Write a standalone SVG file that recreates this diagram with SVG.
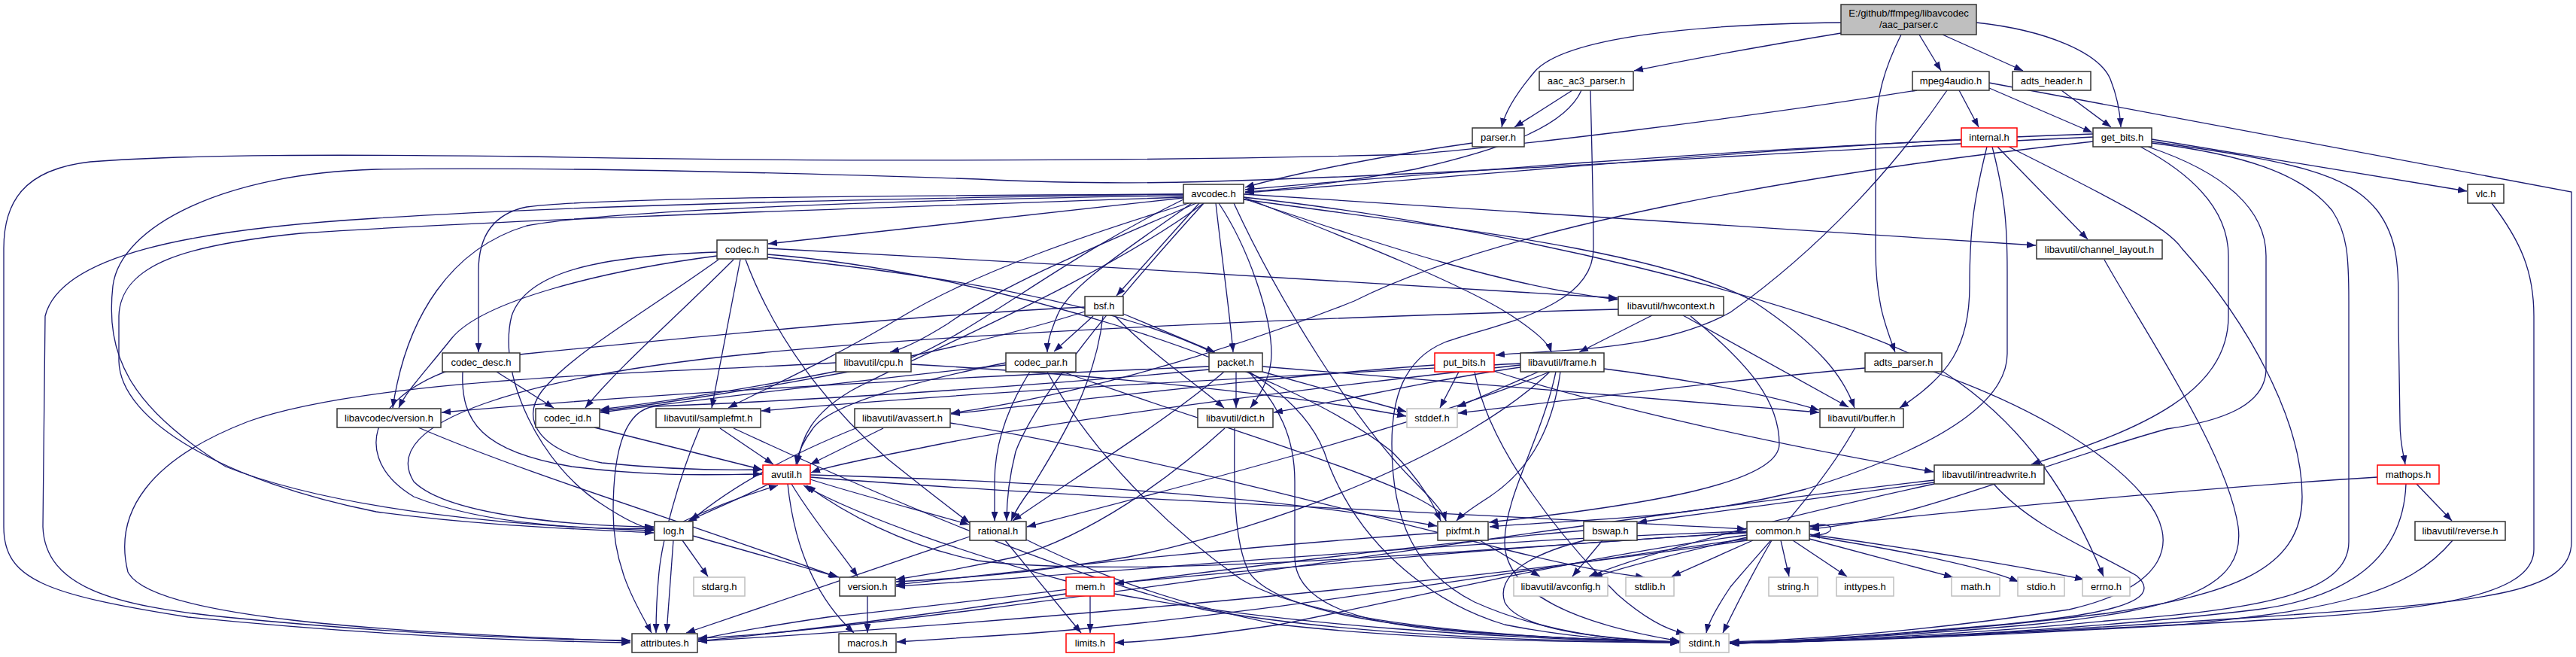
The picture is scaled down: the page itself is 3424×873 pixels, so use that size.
<svg xmlns="http://www.w3.org/2000/svg" width="3424" height="873" viewBox="0 0 3424 873">
<style>
.n rect{fill:#fff;stroke:#333;stroke-width:1.5}
.g rect{fill:#fff;stroke:#bfbfbf;stroke-width:1.5}
.r rect{fill:#fff;stroke:#ff0000;stroke-width:1.5}
.top rect{fill:#bfbfbf;stroke:#333;stroke-width:1.5}
text{font-family:"Liberation Sans",Arial,sans-serif;font-size:13px;text-anchor:middle;fill:#000}
#edges path{fill:none;stroke:#191970;stroke-width:1.3;marker-end:url(#a)}
</style>
<defs>
<marker id="a" markerWidth="12" markerHeight="9" refX="12" refY="4.5" orient="auto" markerUnits="userSpaceOnUse"><path d="M0,0 L12,4.5 L0,9 z" fill="#191970"/></marker>
</defs>
<rect width="3424" height="873" fill="#fff"/>
<g id="edges">
<path d="M2447,30 C2250,32 2080,50 2040,95 C2012,128 2000,150 1996,169"/>
<path d="M2447,44 C2350,60 2250,78 2172,94"/>
<path d="M2551,46 L2580,94"/>
<path d="M2527,46 C2505,90 2493,130 2493,180 L2493,330 C2493,400 2505,430 2519,468"/>
<path d="M2582,46 L2689,94"/>
<path d="M2627,30 C2720,40 2790,70 2805,105 C2815,130 2818,150 2819,169"/>
<path d="M2090,120 L2013,169"/>
<path d="M2102,120 C2080,170 1990,200 1880,225 C1780,243 1710,252 1655,255"/>
<path d="M2114,120 C2116,200 2118,280 2118,330 C2118,410 1990,430 1920,455 C1865,478 1850,530 1850,590 C1850,690 1880,760 1960,800 C2060,845 2170,852 2232,854"/>
<path d="M2604,120 L2630,169"/>
<path d="M2548,120 C2300,160 2000,195 1880,205 C1500,215 1100,215 700,208 C450,205 250,205 120,215 C30,225 5,270 5,330 L5,700 C5,770 60,790 250,820 C500,845 700,852 838,854"/>
<path d="M2588,120 C2520,220 2420,330 2300,415 C2200,470 2050,465 1988,472"/>
<path d="M2644,117 L2781,176"/>
<path d="M2644,110 L3418,255 L3418,720 C3418,790 3300,800 3000,820 C2700,840 2450,852 2300,855"/>
<path d="M1957,190 C1850,205 1720,230 1655,249"/>
<path d="M2740,120 L2806,169"/>
<path d="M2607,186 C2300,200 1900,230 1655,252"/>
<path d="M2641,195 C2625,260 2618,300 2618,380 C2618,460 2590,500 2525,542"/>
<path d="M2655,195 L2775,318"/>
<path d="M2648,195 C2665,260 2668,300 2668,360 L2668,470 C2668,540 2560,600 2400,650 C2250,690 2100,690 1980,700"/>
<path d="M2670,195 C2800,260 2880,300 2900,330 C2990,430 3060,560 3060,660 C3060,760 2960,790 2800,815 C2600,840 2400,852 2300,854"/>
<path d="M2860,185 L3279,254"/>
<path d="M2860,188 C3050,215 3120,230 3160,280 C3190,320 3188,360 3188,430 L3190,560 C3190,590 3195,605 3197,617"/>
<path d="M2860,190 C2980,205 3060,230 3100,280 C3120,310 3122,340 3122,400 L3122,720 C3122,790 3000,810 2800,825 C2600,845 2400,852 2300,855"/>
<path d="M2845,195 C2930,240 2962,290 2962,340 L2962,420 C2962,520 2850,570 2700,617"/>
<path d="M2855,195 C2960,230 3012,280 3012,340 L3012,490 C3012,540 2950,560 2880,570 C2700,620 2550,690 2406,703"/>
<path d="M2782,178 C2400,190 1950,235 1655,256"/>
<path d="M2782,182 C2400,200 2000,228 1700,238 C1550,244 1450,245 1300,238 C1000,228 700,222 500,225 C300,230 160,300 150,380 C140,470 170,540 300,620 C450,680 700,700 869,705"/>
<path d="M2782,188 C2400,230 2000,300 1800,400 C1600,480 1400,530 1264,549"/>
<path d="M3312,270 C3350,320 3368,360 3368,420 L3368,730 C3368,800 3200,815 2900,830 C2650,842 2450,852 2300,855"/>
<path d="M1653,262 C2000,300 2400,400 2560,480 C2700,560 2760,680 2796,766"/>
<path d="M1580,270 C1450,310 1300,360 1200,420 C1100,480 1020,515 968,542"/>
<path d="M1573,258 C1300,262 800,270 500,290 C250,305 80,340 60,420 L57,700 C60,780 150,805 300,820 C500,840 700,850 838,851"/>
<path d="M1600,270 C1450,380 1200,480 1130,520 C1080,550 1065,580 1060,617"/>
<path d="M1653,265 C1900,300 2200,330 2330,400 C2420,460 2450,500 2465,542"/>
<path d="M1590,270 C1450,330 1330,380 1260,430 C1220,455 1195,465 1183,468"/>
<path d="M1653,258 C2100,290 2500,315 2706,326"/>
<path d="M1620,270 C1660,330 1690,420 1690,470 C1690,500 1675,525 1662,542"/>
<path d="M1653,262 C1800,320 1950,380 2010,420 C2040,440 2058,455 2062,468"/>
<path d="M1653,264 C1850,330 2000,380 2150,398"/>
<path d="M1573,262 C1200,275 700,290 400,310 C250,325 160,350 158,420 L158,480 C160,560 300,640 500,680 C650,700 780,703 869,708"/>
<path d="M1640,270 C1700,400 1800,560 1880,640 C1905,665 1918,680 1922,692"/>
<path d="M1600,270 C1500,380 1380,520 1350,600 C1340,640 1338,670 1338,692"/>
<path d="M1594,270 L1484,393"/>
<path d="M1573,263 L1021,324"/>
<path d="M1573,258 C1200,260 800,262 700,275 C650,285 636,320 636,360 L636,468"/>
<path d="M1584,270 C1500,330 1420,380 1405,420 C1395,445 1392,455 1392,468"/>
<path d="M1573,265 C1400,350 1300,440 1200,480 C1000,520 850,540 798,546"/>
<path d="M1616,270 C1625,350 1635,420 1639,468"/>
<path d="M1573,260 C1200,265 800,280 700,300 C600,330 540,420 522,542"/>
<path d="M991,345 C1030,450 1100,540 1180,610 C1230,650 1265,677 1289,695"/>
<path d="M984,345 L946,542"/>
<path d="M975,345 C900,420 820,490 778,542"/>
<path d="M955,345 C850,420 760,470 720,520 C690,560 720,600 800,615 C900,625 970,625 1013,624"/>
<path d="M1020,330 C1400,350 1900,380 2150,396"/>
<path d="M1020,338 C1300,360 1700,480 1850,600 C1890,640 1905,670 1915,692"/>
<path d="M1020,342 C1400,380 1700,450 1760,600 C1800,720 1900,800 2000,830 C2100,850 2180,852 2232,853"/>
<path d="M953,335 C800,340 700,360 680,420 C660,500 720,620 800,670 C830,690 850,700 869,704"/>
<path d="M953,340 C800,360 640,400 600,450 C560,500 540,520 530,542"/>
<path d="M1453,420 L1401,467"/>
<path d="M1493,417 L1615,468"/>
<path d="M1482,420 C1530,470 1590,510 1627,542"/>
<path d="M1466,420 C1455,520 1400,600 1370,650 C1355,670 1347,685 1344,692"/>
<path d="M1442,408 C1200,420 900,450 700,470 C500,490 450,600 550,660 C650,700 800,704 869,702"/>
<path d="M1442,414 C1300,460 1000,520 798,544"/>
<path d="M660,494 L736,542"/>
<path d="M615,494 C612,560 640,600 760,620 C880,635 960,630 1013,630"/>
<path d="M1111,482 C900,495 500,500 330,560 C200,610 150,680 170,760 C200,820 500,840 838,852"/>
<path d="M1211,484 C1500,500 1750,530 1869,553"/>
<path d="M1369,494 C1340,540 1322,590 1322,640 L1322,692"/>
<path d="M1337,482 C1200,510 1100,540 1080,570 C1065,590 1060,605 1058,617"/>
<path d="M1337,485 C1100,510 900,535 798,548"/>
<path d="M1412,494 C1600,560 1800,620 1880,660 C1910,675 1920,685 1922,692"/>
<path d="M1392,494 C1450,600 1550,700 1650,770 C1750,830 2000,848 2232,853"/>
<path d="M1643,494 L1643,542"/>
<path d="M1678,494 L1869,547"/>
<path d="M1678,487 C1900,505 2200,530 2418,548"/>
<path d="M1627,494 C1550,560 1420,640 1346,692"/>
<path d="M1660,494 C1700,540 1721,580 1721,640 L1721,740 C1721,800 1800,830 1950,840 C2100,850 2180,852 2232,853"/>
<path d="M1607,487 C1300,500 900,520 587,548"/>
<path d="M1607,491 C1300,520 1000,535 870,540 C830,545 815,600 815,680 C815,760 850,810 866,841"/>
<path d="M556,568 C700,630 900,690 1113,767"/>
<path d="M790,568 L1013,624"/>
<path d="M957,569 L1028,617"/>
<path d="M930,569 C900,640 880,720 876,760 C872,800 872,820 872,841"/>
<path d="M975,569 C1150,650 1400,760 1600,810 C1800,845 2050,852 2232,854"/>
<path d="M1174,569 L1077,617"/>
<path d="M1140,568 C1060,600 980,640 918,692"/>
<path d="M1263,562 C1500,600 1800,680 2000,730 C2120,760 2170,765 2186,767"/>
<path d="M1641,569 C1640,650 1640,720 1660,760 C1700,820 1900,845 2232,853"/>
<path d="M1628,569 C1550,640 1450,710 1350,740 C1260,760 1220,765 1191,770"/>
<path d="M2466,568 C2420,650 2350,720 2300,780 C2280,810 2270,830 2268,841"/>
<path d="M2045,494 L1937,541"/>
<path d="M2132,490 C2250,505 2350,525 2418,545"/>
<path d="M2021,488 C1900,505 1800,530 1693,548"/>
<path d="M2021,483 C1700,500 1300,520 1012,546"/>
<path d="M2021,485 C1700,520 1400,560 1250,590 C1150,610 1100,620 1078,628"/>
<path d="M2060,494 C1900,560 1600,640 1365,700"/>
<path d="M2074,494 C2065,560 2040,620 1980,660 C1955,676 1942,685 1936,692"/>
<path d="M2068,494 C2050,580 2000,660 2000,720 C2000,790 2100,830 2233,852"/>
<path d="M2060,494 C1950,600 1700,700 1500,740 C1350,765 1250,770 1191,773"/>
<path d="M2196,419 L2099,468"/>
<path d="M2237,419 L2457,541"/>
<path d="M2247,420 C2320,480 2365,530 2365,590 C2365,640 2200,670 1979,694"/>
<path d="M2151,411 C1800,420 1300,440 1000,470 C700,500 500,560 550,640 C600,690 800,700 869,700"/>
<path d="M1939,494 L1914,542"/>
<path d="M1982,492 C2100,530 2300,580 2570,627"/>
<path d="M1907,485 C1700,500 1450,530 1264,550"/>
<path d="M1960,494 C1980,600 2080,720 2150,790 C2190,825 2220,838 2240,842"/>
<path d="M2479,489 C2300,505 2100,530 1938,549"/>
<path d="M2570,494 C2700,540 2800,600 2850,660 C2900,720 2880,780 2750,810 C2550,840 2400,850 2299,853"/>
<path d="M1022,643 C985,662 945,678 914,693"/>
<path d="M1077,637 C1150,660 1230,680 1288,697"/>
<path d="M1052,643 C1080,690 1115,730 1140,766"/>
<path d="M1047,643 C1055,720 1080,790 1135,841"/>
<path d="M1077,634 C1400,660 1900,680 2321,703"/>
<path d="M1077,631 C1400,640 1700,660 1910,699"/>
<path d="M908,693 C960,668 1000,655 1034,645"/>
<path d="M2322,707 C1900,735 1500,770 1300,745 C1200,725 1120,680 1072,645"/>
<path d="M1417,772 C1300,740 1150,690 1068,645"/>
<path d="M907,718 L941,766"/>
<path d="M895,718 L886,841"/>
<path d="M921,712 L1115,767"/>
<path d="M1336,718 L1437,841"/>
<path d="M1289,713 C1150,760 1000,810 912,841"/>
<path d="M1364,717 C1450,760 1550,800 1700,830 C1900,852 2100,853 2232,854"/>
<path d="M1967,718 L2047,766"/>
<path d="M1911,708 C1600,730 1350,760 1191,777"/>
<path d="M2405,699 C2440,690 2445,712 2407,711"/>
<path d="M2367,718 L2378,766"/>
<path d="M2383,718 L2455,766"/>
<path d="M2405,716 L2596,767"/>
<path d="M2405,712 C2550,735 2640,755 2683,773"/>
<path d="M2405,710 C2550,730 2700,755 2770,770"/>
<path d="M2330,718 L2222,766"/>
<path d="M2322,714 C2230,735 2170,750 2118,767"/>
<path d="M2355,718 C2330,760 2310,800 2290,841"/>
<path d="M2322,711 C2100,740 1900,790 1700,830 C1600,845 1530,852 1482,854"/>
<path d="M2322,708 C2100,720 1800,745 1482,775"/>
<path d="M2322,716 C2000,760 1600,830 1300,846 C1240,850 1210,852 1192,853"/>
<path d="M2322,706 C1900,720 1500,760 1191,779"/>
<path d="M2322,718 C1900,780 1300,830 928,852"/>
<path d="M2130,718 L2090,766"/>
<path d="M2106,718 C2020,740 1990,770 2000,800 C2020,840 2150,850 2233,853"/>
<path d="M2105,705 C1800,730 1400,790 1100,820 C1000,835 950,845 928,850"/>
<path d="M2571,641 L2177,694"/>
<path d="M2571,643 C2400,680 2200,730 2112,766"/>
<path d="M2571,638 C2200,680 1700,760 1300,810 C1100,835 1000,845 928,848"/>
<path d="M2650,643 C2700,700 2780,730 2840,765 C2880,800 2800,820 2600,835 C2450,848 2350,853 2299,854"/>
<path d="M3212,643 L3259,692"/>
<path d="M3198,643 C3195,720 3150,790 3000,810 C2750,840 2450,852 2299,855"/>
<path d="M3160,634 C2900,650 2600,680 2406,700"/>
<path d="M3260,718 C3200,790 3100,810 2900,830 C2600,848 2400,853 2299,855"/>
<path d="M1449,792 L1449,841"/>
<path d="M1481,789 C1700,830 2000,850 2232,853"/>
<path d="M1417,789 C1250,815 1050,840 928,852"/>
<path d="M1153,792 L1153,841"/>
<path d="M2797,345 C2850,440 2960,600 2975,700 C2985,780 2900,810 2700,830 C2500,848 2350,853 2299,854"/>
</g>
<g id="n_aac_parser" class="top"><rect x="2447" y="6" width="180" height="40"/><text x="2537" y="22">E:/github/ffmpeg/libavcodec</text><text x="2537" y="37">/aac_parser.c</text></g>
<g id="n_aac_ac3_parser" class="n"><rect x="2046" y="95" width="125" height="25"/><text x="2108.5" y="112">aac_ac3_parser.h</text></g>
<g id="n_mpeg4audio" class="n"><rect x="2542" y="95" width="102" height="25"/><text x="2593" y="112">mpeg4audio.h</text></g>
<g id="n_adts_header" class="n"><rect x="2675" y="95" width="104" height="25"/><text x="2727" y="112">adts_header.h</text></g>
<g id="n_parser" class="n"><rect x="1957" y="170" width="69" height="25"/><text x="1991.5" y="187">parser.h</text></g>
<g id="n_internal" class="r"><rect x="2607" y="170" width="74" height="25"/><text x="2644" y="187">internal.h</text></g>
<g id="n_get_bits" class="n"><rect x="2782" y="170" width="78" height="25"/><text x="2821" y="187">get_bits.h</text></g>
<g id="n_avcodec" class="n"><rect x="1573" y="245" width="80" height="25"/><text x="1613" y="262">avcodec.h</text></g>
<g id="n_vlc" class="n"><rect x="3280" y="245" width="48" height="25"/><text x="3304" y="262">vlc.h</text></g>
<g id="n_codec" class="n"><rect x="953" y="319" width="67" height="25"/><text x="986.5" y="336">codec.h</text></g>
<g id="n_channel_layout" class="n"><rect x="2707" y="319" width="167" height="25"/><text x="2790.5" y="336">libavutil/channel_layout.h</text></g>
<g id="n_bsf" class="n"><rect x="1442" y="394" width="51" height="25"/><text x="1467.5" y="411">bsf.h</text></g>
<g id="n_hwcontext" class="n"><rect x="2151" y="394" width="140" height="25"/><text x="2221" y="411">libavutil/hwcontext.h</text></g>
<g id="n_codec_desc" class="n"><rect x="588" y="469" width="103" height="25"/><text x="639.5" y="486">codec_desc.h</text></g>
<g id="n_cpu" class="n"><rect x="1111" y="469" width="100" height="25"/><text x="1161" y="486">libavutil/cpu.h</text></g>
<g id="n_codec_par" class="n"><rect x="1337" y="469" width="93" height="25"/><text x="1383.5" y="486">codec_par.h</text></g>
<g id="n_packet" class="n"><rect x="1607" y="469" width="71" height="25"/><text x="1642.5" y="486">packet.h</text></g>
<g id="n_put_bits" class="r"><rect x="1907" y="469" width="79" height="25"/><text x="1946.5" y="486">put_bits.h</text></g>
<g id="n_frame" class="n"><rect x="2021" y="469" width="111" height="25"/><text x="2076.5" y="486">libavutil/frame.h</text></g>
<g id="n_adts_parser" class="n"><rect x="2479" y="469" width="102" height="25"/><text x="2530" y="486">adts_parser.h</text></g>
<g id="n_lavc_version" class="n"><rect x="448" y="543" width="138" height="25"/><text x="517" y="560">libavcodec/version.h</text></g>
<g id="n_codec_id" class="n"><rect x="712" y="543" width="85" height="25"/><text x="754.5" y="560">codec_id.h</text></g>
<g id="n_samplefmt" class="n"><rect x="872" y="543" width="139" height="25"/><text x="941.5" y="560">libavutil/samplefmt.h</text></g>
<g id="n_avassert" class="n"><rect x="1136" y="543" width="127" height="25"/><text x="1199.5" y="560">libavutil/avassert.h</text></g>
<g id="n_dict" class="n"><rect x="1592" y="543" width="100" height="25"/><text x="1642" y="560">libavutil/dict.h</text></g>
<g id="n_stddef" class="g"><rect x="1870" y="543" width="67" height="25"/><text x="1903.5" y="560">stddef.h</text></g>
<g id="n_buffer" class="n"><rect x="2419" y="543" width="111" height="25"/><text x="2474.5" y="560">libavutil/buffer.h</text></g>
<g id="n_avutil" class="r"><rect x="1014" y="618" width="63" height="25"/><text x="1045.5" y="635">avutil.h</text></g>
<g id="n_intreadwrite" class="n"><rect x="2571" y="618" width="146" height="25"/><text x="2644" y="635">libavutil/intreadwrite.h</text></g>
<g id="n_mathops" class="r"><rect x="3160" y="618" width="82" height="25"/><text x="3201" y="635">mathops.h</text></g>
<g id="n_log" class="n"><rect x="870" y="693" width="51" height="25"/><text x="895.5" y="710">log.h</text></g>
<g id="n_rational" class="n"><rect x="1289" y="693" width="75" height="25"/><text x="1326.5" y="710">rational.h</text></g>
<g id="n_pixfmt" class="n"><rect x="1911" y="693" width="67" height="25"/><text x="1944.5" y="710">pixfmt.h</text></g>
<g id="n_bswap" class="n"><rect x="2105" y="693" width="71" height="25"/><text x="2140.5" y="710">bswap.h</text></g>
<g id="n_common" class="n"><rect x="2322" y="693" width="83" height="25"/><text x="2363.5" y="710">common.h</text></g>
<g id="n_reverse" class="n"><rect x="3210" y="693" width="120" height="25"/><text x="3270" y="710">libavutil/reverse.h</text></g>
<g id="n_stdarg" class="g"><rect x="922" y="767" width="68" height="25"/><text x="956" y="784">stdarg.h</text></g>
<g id="n_version" class="n"><rect x="1116" y="767" width="74" height="25"/><text x="1153" y="784">version.h</text></g>
<g id="n_mem" class="r"><rect x="1417" y="767" width="64" height="25"/><text x="1449" y="784">mem.h</text></g>
<g id="n_avconfig" class="g"><rect x="2012" y="767" width="125" height="25"/><text x="2074.5" y="784">libavutil/avconfig.h</text></g>
<g id="n_stdlib" class="g"><rect x="2161" y="767" width="64" height="25"/><text x="2193" y="784">stdlib.h</text></g>
<g id="n_string" class="g"><rect x="2351" y="767" width="65" height="25"/><text x="2383.5" y="784">string.h</text></g>
<g id="n_inttypes" class="g"><rect x="2441" y="767" width="76" height="25"/><text x="2479" y="784">inttypes.h</text></g>
<g id="n_math" class="g"><rect x="2594" y="767" width="64" height="25"/><text x="2626" y="784">math.h</text></g>
<g id="n_stdio" class="g"><rect x="2682" y="767" width="62" height="25"/><text x="2713" y="784">stdio.h</text></g>
<g id="n_errno" class="g"><rect x="2768" y="767" width="63" height="25"/><text x="2799.5" y="784">errno.h</text></g>
<g id="n_attributes" class="n"><rect x="840" y="842" width="87" height="25"/><text x="883.5" y="859">attributes.h</text></g>
<g id="n_macros" class="n"><rect x="1115" y="842" width="76" height="25"/><text x="1153" y="859">macros.h</text></g>
<g id="n_limits" class="r"><rect x="1417" y="842" width="64" height="25"/><text x="1449" y="859">limits.h</text></g>
<g id="n_stdint" class="g"><rect x="2233" y="842" width="65" height="25"/><text x="2265.5" y="859">stdint.h</text></g>
</svg>
